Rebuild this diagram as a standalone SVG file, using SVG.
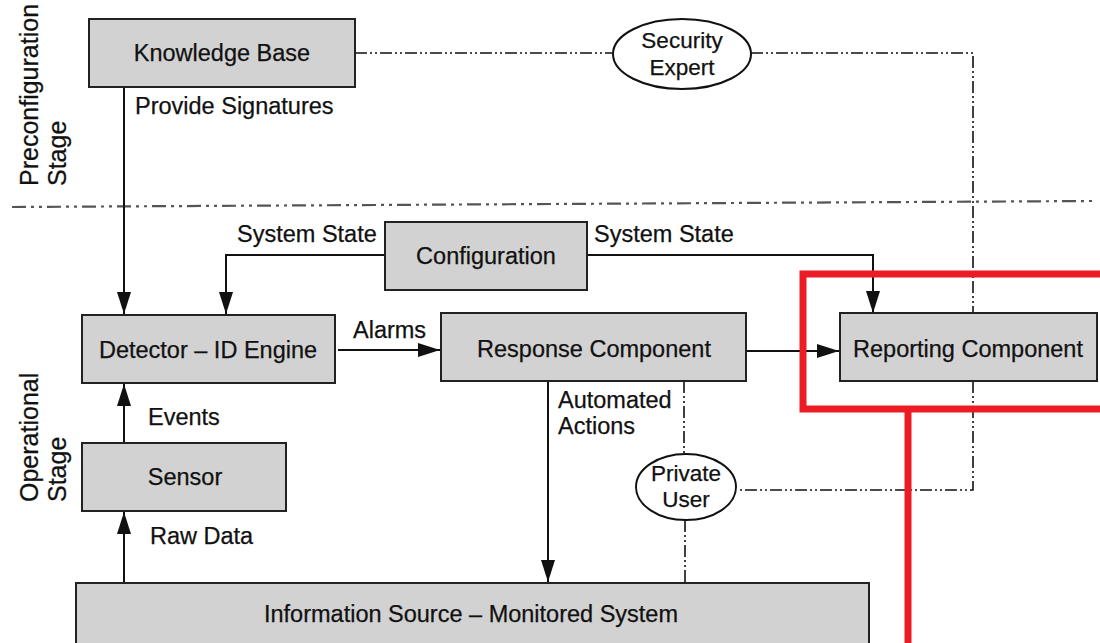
<svg xmlns="http://www.w3.org/2000/svg" width="1100" height="643" viewBox="0 0 1100 643">
<style>
.box{fill:#d2d2d2;stroke:#222;stroke-width:2}
.ell{fill:#fff;stroke:#111;stroke-width:2}
.t{font-family:"Liberation Sans",Arial,sans-serif;font-size:23.5px;fill:#111;stroke:#111;stroke-width:0.25}
.e{font-size:22.5px}
.r{font-size:25px}
.c{text-anchor:middle}
.ln{fill:none;stroke:#111;stroke-width:2}
.dd{fill:none;stroke:#111;stroke-width:1.6;stroke-dasharray:12 3 2 3 2 3}
.sep{fill:none;stroke:#555;stroke-width:2.2;stroke-dasharray:14 5 3 5 3 5}
.red{fill:none;stroke:#ec1c24;stroke-width:7}
</style>
<defs>
<marker id="ah" viewBox="0 0 22 14" refX="22" refY="7" markerWidth="22" markerHeight="14" markerUnits="userSpaceOnUse" orient="auto">
<path d="M0,0 L22,7 L0,14 Z" fill="#111"/>
</marker>
</defs>
<rect width="1100" height="643" fill="#fff"/>
<g id="stage-labels">
<text class="t r" transform="translate(38,186) rotate(-90)">Preconfiguration</text>
<text class="t r" transform="translate(66,186) rotate(-90)">Stage</text>
<text class="t r" transform="translate(38,502) rotate(-90)">Operational</text>
<text class="t r" transform="translate(66,502) rotate(-90)">Stage</text>
</g>
<g id="separator">
<path class="sep" d="M12,207 L1092,201"/>
</g>
<g id="connectors">
<path class="dd" d="M355,53 L612,53"/>
<path class="dd" d="M751,53 L973,53 L973,490 L737,490"/>
<path class="dd" d="M684,381 L684,454"/>
<path class="dd" d="M685,520 L685,583"/>
<path class="ln" d="M124,87 L124,314" marker-end="url(#ah)"/>
<path class="ln" d="M385,255 L226,255 L226,314" marker-end="url(#ah)"/>
<path class="ln" d="M587,255 L873,255 L873,313" marker-end="url(#ah)"/>
<path class="ln" d="M338,350 L440,350" marker-end="url(#ah)"/>
<path class="ln" d="M746,351 L839,351" marker-end="url(#ah)"/>
<path class="ln" d="M548,381 L548,582" marker-end="url(#ah)"/>
<path class="ln" d="M124,443 L124,384" marker-end="url(#ah)"/>
<path class="ln" d="M124,582 L124,512" marker-end="url(#ah)"/>
<text class="t" x="135" y="114">Provide Signatures</text>
<text class="t" x="237" y="242">System State</text>
<text class="t" x="594" y="242">System State</text>
<text class="t" x="353" y="338">Alarms</text>
<text class="t" x="558" y="408">Automated</text>
<text class="t" x="558" y="434">Actions</text>
<text class="t" x="148" y="425">Events</text>
<text class="t" x="150" y="544">Raw Data</text>
</g>
<g id="knowledge-base">
<rect class="box" x="89" y="19" width="266" height="68"/>
<text class="t c" x="222" y="61">Knowledge Base</text>
</g>
<g id="security-expert">
<ellipse class="ell" cx="682" cy="54" rx="69" ry="35"/>
<text class="t e c" x="682" y="48">Security</text>
<text class="t e c" x="682" y="75">Expert</text>
</g>
<g id="configuration">
<rect class="box" x="385" y="222" width="202" height="68"/>
<text class="t c" x="486" y="264">Configuration</text>
</g>
<g id="detector">
<rect class="box" x="82" y="315" width="253" height="68"/>
<text class="t c" x="208" y="358">Detector – ID Engine</text>
</g>
<g id="response">
<rect class="box" x="441" y="313" width="305" height="68"/>
<text class="t c" x="594" y="357">Response Component</text>
</g>
<g id="reporting">
<rect class="box" x="840" y="313" width="257" height="68"/>
<text class="t c" x="968" y="357">Reporting Component</text>
</g>
<g id="sensor">
<rect class="box" x="82" y="443" width="204" height="68"/>
<text class="t c" x="185" y="485">Sensor</text>
</g>
<g id="private-user">
<ellipse class="ell" cx="686" cy="487" rx="50" ry="33"/>
<text class="t e c" x="686" y="481">Private</text>
<text class="t e c" x="686" y="507">User</text>
</g>
<g id="information-source">
<rect class="box" x="76" y="583" width="793" height="70"/>
<text class="t c" x="471" y="622">Information Source – Monitored System</text>
</g>
<g id="highlight">
<path class="red" d="M1110,274 L803,274 L803,409 L1110,409"/>
<path class="red" d="M908,409 L908,650"/>
</g>
</svg>
